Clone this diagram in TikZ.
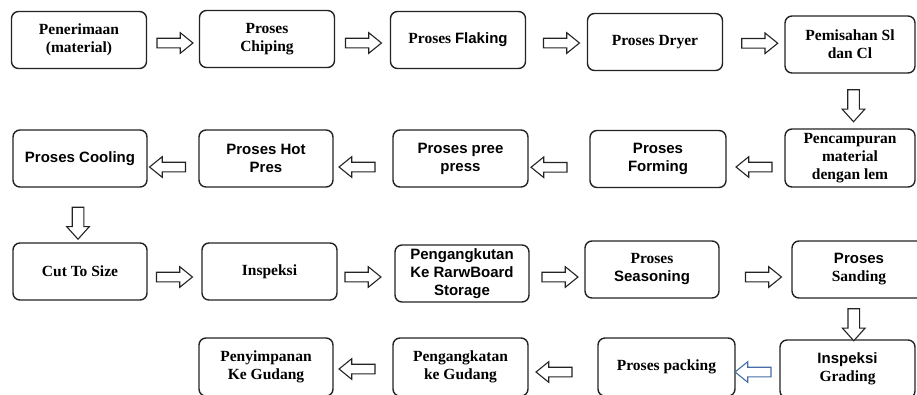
\documentclass[tikz,border=0pt]{standalone}
\usepackage{fontspec}
\setmainfont{Liberation Serif}
\newfontfamily\sansf{Liberation Sans}
\usetikzlibrary{shapes.arrows,calc}
\definecolor{linec}{RGB}{35,35,35}
\definecolor{bluec}{RGB}{70,110,165}
\newcommand{\sw}[1]{{\sansf\fontsize{15}{18}\selectfont #1}}
\newcommand{\rw}[1]{{\rmfamily\fontsize{15.5}{18}\selectfont #1}}
\tikzset{
  box/.style={draw=linec, line width=1.4pt, rounded corners=7pt, minimum width=135pt,
    minimum height=57pt, align=center, inner sep=0pt, text=black,
    font=\bfseries\fontsize{15.5}{18}\selectfont},
  sbox/.style={box, font=\sansf\bfseries\fontsize{15}{18}\selectfont},
  harr/.style={single arrow, draw=linec, fill=white, line width=1.1pt, minimum height=36pt,
    text height=8.5pt, text depth=0pt, text width=0pt,
    single arrow head extend=5.5pt, single arrow tip angle=78, inner sep=0pt},
  larr/.style={harr, rotate=180},
  darr/.style={single arrow, draw=linec, fill=white, line width=1.1pt, minimum height=32pt,
    text height=10.5pt, text depth=0pt, text width=0pt,
    single arrow head extend=5.5pt, single arrow tip angle=84, inner sep=0pt,
    rotate=-90}
}
\begin{document}
\begin{tikzpicture}[x=1pt,y=-1pt]
\useasboundingbox (0,0) rectangle (917,394);
\clip (0,0) rectangle (917,394);
% row 1
\node[box] (b1) at (79,40) {Penerimaan\\(material)};
\node[box] (b2) at (267,39) {Proses\\Chiping};
\node[box] (b3) at (458,40) {\rw{Proses} \sw{Flaking}};
\node[box] (b4) at (655,42) {Proses Dryer};
\node[box, minimum width=130pt] (b5) at (850,44.5) {Pemisahan Sl\\dan Cl};
% row 2
\node[box, minimum width=130pt, minimum height=58pt] (b6) at (850,158) {Pencampuran\\material\\dengan lem};
\node[sbox, minimum width=136pt] (b7) at (658,159) {Proses\\Forming};
\node[sbox] (b8) at (460.5,158.5) {Proses pree\\press};
\node[sbox, minimum width=134pt] (b9) at (266,158.5) {Proses Hot\\Pres};
\node[sbox, minimum width=134pt] (b10) at (80,158.5) {Proses Cooling};
% row 3
\node[box, minimum width=134pt] (b11) at (80,271.5) {Cut To Size};
\node[box] (b12) at (269.5,271.5) {Inspeksi};
\node[sbox, minimum width=134pt] (b13) at (462,273.5) {Pengangkutan\\Ke RarwBoard\\Storage};
\node[box, minimum width=134pt] (b14) at (652,269.5) {Proses\\\sw{Seasoning}};
\node[box, minimum width=134pt] (b15) at (859,269.5) {\sw{Proses}\\Sanding};
% row 4
\node[box, minimum height=58pt] (b16) at (847.5,369) {\sw{Inspeksi}\\Grading};
\node[box, minimum width=137pt, minimum height=58pt] (b17) at (666.5,367) {Proses packing};
\node[box, minimum height=58pt] (b18) at (460.5,367) {Pengangkatan\\ke Gudang};
\node[box, minimum width=134pt, minimum height=58pt] (b19) at (266,367) {Penyimpanan\\Ke Gudang};
% arrows row 1
\node[harr] (a1) at ($(b1.east)!0.5!(b2.west)+(-1,3.5)$) {};
\node[harr] (a2) at ($(b2.east)!0.5!(b3.west)+(-2,3.5)$) {};
\node[harr] (a3) at ($(b3.east)!0.5!(b4.west)+(2,2)$) {};
\node[harr] (a4) at ($(b4.east)!0.5!(b5.west)+(3,0)$) {};
\node[darr] (d1) at ($(b5.south)!0.5!(b6.north)+(3.5,1.5)$) {};
% arrows row 2
\node[larr] (a5) at ($(b6.west)!0.5!(b7.east)+(1.5,8.5)$) {};
\node[larr] (a6) at ($(b7.west)!0.5!(b8.east)+(-7,8.5)$) {};
\node[larr] (a7) at ($(b8.west)!0.5!(b9.east)+(-3,8.5)$) {};
\node[larr] (a8) at ($(b9.west)!0.5!(b10.east)+(-2.5,8.5)$) {};
\node[darr] (d2) at ($(b10.south)!0.5!(b11.north)+(-2,5)$) {};
% arrows row 3
\node[harr] (a9) at ($(b11.east)!0.5!(b12.west)+(-3,5.5)$) {};
\node[harr] (a10) at ($(b12.east)!0.5!(b13.west)+(-6,4.5)$) {};
\node[harr] (a11) at ($(b13.east)!0.5!(b14.west)+(0,5.5)$) {};
\node[harr] (a12) at ($(b14.east)!0.5!(b15.west)+(5,7.5)$) {};
\node[darr] (d3) at ($(b15.south)!0.5!(b16.north)+(0.5,2.5)$) {};
% arrows row 4
\node[larr, draw=bluec] (a13) at ($(b16.west)!0.5!(b17.east)+(-1.5,4)$) {};
\node[larr] (a14) at ($(b17.west)!0.5!(b18.east)+(-6,5)$) {};
\node[larr] (a15) at ($(b18.west)!0.5!(b19.east)+(-3,2)$) {};
\end{tikzpicture}
\end{document}
